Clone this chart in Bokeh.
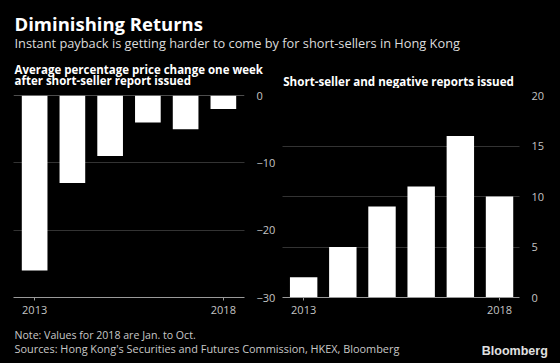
from bokeh.plotting import figure
from bokeh.layouts import column, row
from bokeh.models import Label, Range1d, FixedTicker, Span
from bokeh.embed import file_html
from bokeh.resources import INLINE

# ---- data ----
years = [2013, 2014, 2015, 2016, 2017, 2018]
price_change = [-26, -13, -9, -4, -5, -2]
reports = [2, 5, 9, 11, 16, 10]
x_tick_years = [2013, 2018]
left_ticks = [-30, -20, -10, 0]
right_ticks = [0, 5, 10, 15, 20]

title = "Diminishing Returns"
subtitle = "Instant payback is getting harder to come by for short-sellers in Hong Kong"
left_title = ["Average percentage price change one week", "after short-seller report issued"]
right_title = "Short-seller and negative reports issued"
note = "Note: Values for 2018 are Jan. to Oct."
sources = "Sources: Hong Kong's Securities and Futures Commission, HKEX, Bloomberg"

FONT = "Open Sans"
BG = "#000000"
TICK_COLOR = "#c4c4c4"
GRID_COLOR = "#666666"
AXIS_COLOR = "#9a9a9a"

HEAD_H = 88
CHART_H = 234
FOOT_H = 363 - HEAD_H - CHART_H


def text_fig(w, h):
    p = figure(width=w, height=h, output_backend="svg", toolbar_location=None,
               x_range=Range1d(0, 1), y_range=Range1d(0, 1),
               min_border=0, background_fill_color=BG, border_fill_color=BG,
               outline_line_color=None)
    p.axis.visible = False
    p.grid.visible = False
    return p


def lab(p, x, y, text, size, color, bold=False, align="left", font=FONT):
    # y is the wanted baseline; compensate the label's vertical anchoring
    p.add_layout(Label(x=x, y=y - 0.32 * size, x_units="canvas", y_units="canvas",
                       text=text, text_font=font, text_font_size=f"{size}px",
                       text_font_style="bold" if bold else "normal",
                       text_color=color, text_align=align,
                       text_baseline="alphabetic"))


def chart(w, h, xr, yr, ticks, mbl, mbr):
    p = figure(width=w, height=h, output_backend="svg", toolbar_location=None,
               x_range=xr, y_range=yr, y_axis_location="right",
               min_border_left=mbl, min_border_right=mbr,
               min_border_top=95 - HEAD_H, min_border_bottom=h - (95 - HEAD_H) - 202,
               background_fill_color=BG, border_fill_color=BG,
               outline_line_color=None)
    p.xgrid.visible = False
    p.ygrid.grid_line_color = GRID_COLOR
    p.ygrid.grid_line_dash = "1 1"
    p.ygrid.grid_line_width = 1
    p.yaxis.ticker = FixedTicker(ticks=ticks)
    p.xaxis.ticker = FixedTicker(ticks=x_tick_years)
    p.xaxis.major_label_overrides = {y: str(y) for y in x_tick_years}
    for ax in p.axis:
        ax.major_label_text_font = FONT
        ax.major_label_text_font_size = "11px"
        ax.major_label_text_color = TICK_COLOR
        ax.minor_tick_line_color = None
    p.yaxis.axis_line_color = None
    p.yaxis.major_tick_line_color = None
    p.yaxis.major_label_standoff = 6
    p.xaxis.axis_line_color = AXIS_COLOR
    p.xaxis.major_tick_line_color = AXIS_COLOR
    p.xaxis.major_tick_in = 0
    p.xaxis.major_tick_out = 3
    p.xaxis.major_label_standoff = 5
    return p


# ---- header (title, subtitle, panel titles) ----
head = text_fig(560, HEAD_H)
lab(head, 14, 29.3, title, 18.5, "#ffffff", bold=True)
lab(head, 14, 46.7, subtitle, 12.8, "#dcdcdc")
lab(head, 14, 72.5, left_title[0], 11.5, "#ffffff", bold=True)
lab(head, 14, 83.5, left_title[1], 11.5, "#ffffff", bold=True)
lab(head, 282.7, 84.3, right_title, 11.6, "#ffffff", bold=True)

# ---- left chart ----
p1 = chart(278, CHART_H, Range1d(2012.44, 2018.56), Range1d(-30, 0), left_ticks, 13, 30)
p1.vbar(x=years, top=0, bottom=price_change, width=0.68, fill_color="#ffffff",
        line_color=None)
p1.add_layout(Span(location=0, dimension="width", line_color=AXIS_COLOR, line_width=1))

# ---- right chart ----
p2 = chart(282, CHART_H, Range1d(2012.46, 2018.51), Range1d(0, 20), right_ticks, 4, 41)
p2.vbar(x=years, top=reports, bottom=0, width=0.70, fill_color="#ffffff",
        line_color=None)

# ---- footer ----
fy = HEAD_H + CHART_H
foot = text_fig(560, FOOT_H)
lab(foot, 14, 337.7 - fy, note, 10.6, "#c8c8c8")
lab(foot, 14, 351.7 - fy, sources, 10.9, "#c8c8c8")
lab(foot, 547.3, 354.3 - fy, "Bloomberg", 12.5, "#e0e0e0", bold=True,
    align="right", font="Liberation Sans")

layout = column(head, row(p1, p2), foot)
layout.styles = {"background-color": BG}

html = file_html(layout, INLINE)
html = html.replace("<head>", "<head><style>html,body{background:#000;}</style>", 1)
open("out.html", "w").write(html)
